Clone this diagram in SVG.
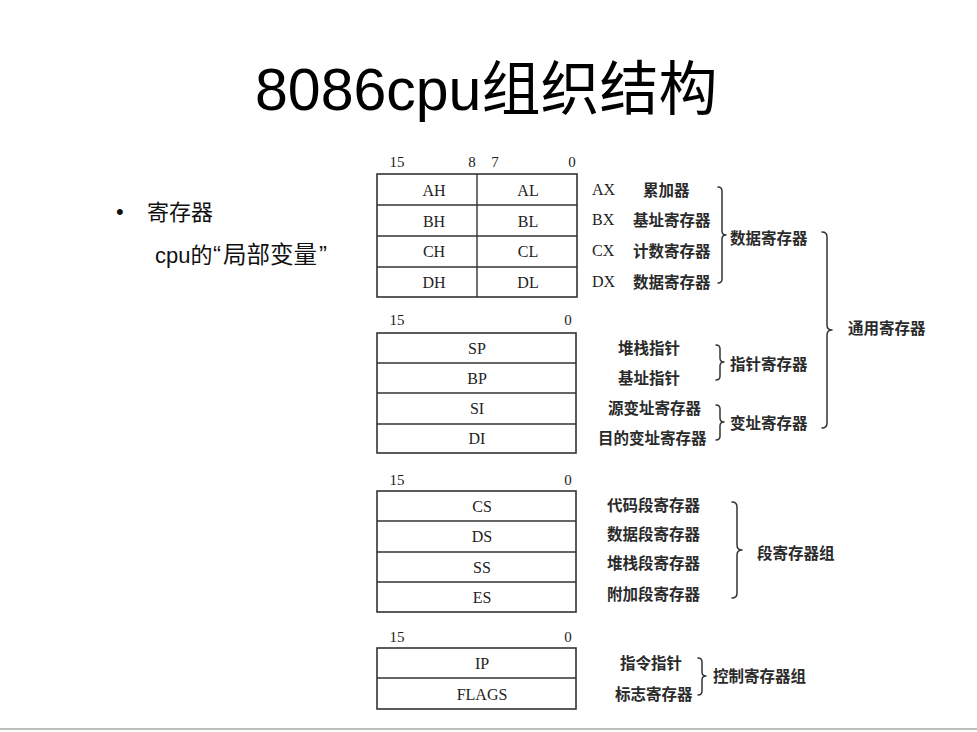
<svg xmlns="http://www.w3.org/2000/svg" width="977" height="732" viewBox="0 0 977 732">
<style>
.bg{fill:#ffffff}
.box{fill:#ffffff;stroke:#333333;stroke-width:1.6}
.div{stroke:#333333;stroke-width:1.4;fill:none}
.reg{font-family:"Liberation Serif","Noto Sans CJK SC",serif;font-size:16px;fill:#222222;text-anchor:middle;dominant-baseline:central}
.num{font-family:"Liberation Serif",serif;font-size:15px;fill:#222222;text-anchor:middle;dominant-baseline:central}
.lab{font-family:"Liberation Serif","Noto Sans CJK SC",serif;font-size:16px;fill:#222222;dominant-baseline:central}
.cn{font-family:"Noto Sans CJK SC",sans-serif;font-size:15.5px;font-weight:bold;fill:#2a2a2a;dominant-baseline:central}
.brace{fill:none;stroke:#333333;stroke-width:1.5;stroke-linejoin:round;stroke-linecap:round}
.title{font-family:"Liberation Sans","Noto Sans CJK SC",sans-serif;font-size:59px;fill:#000000}
.body{font-family:"Liberation Sans","Noto Sans CJK SC",sans-serif;font-size:22px;fill:#111111}
</style>
<rect class="bg" x="0" y="0" width="977" height="732"/>
<line x1="0" y1="729" x2="977" y2="729" stroke="#bdbdbd" stroke-width="2"/>

<g id="title"><text class="title" x="255" y="110">8086cpu组织结构</text></g>

<g id="bullet">
<text class="body" x="116" y="219">•</text>
<text class="body" x="147" y="220" font-size="23" font-family="Noto Sans CJK SC, sans-serif">寄存器</text>
<text class="body" y="263"><tspan x="155">cpu的</tspan><tspan x="213" font-size="24">“</tspan><tspan x="223" font-size="23.5">局部变量</tspan><tspan x="319" font-size="24">”</tspan></text>
</g>

<!-- Data registers -->
<g id="data-registers">
<text class="num" x="397" y="162">15</text>
<text class="num" x="472" y="162">8</text>
<text class="num" x="495" y="162">7</text>
<text class="num" x="572" y="162">0</text>
<rect class="box" x="377" y="174" width="200" height="123"/>
<line class="div" x1="377" y1="205" x2="577" y2="205"/>
<line class="div" x1="377" y1="236" x2="577" y2="236"/>
<line class="div" x1="377" y1="267" x2="577" y2="267"/>
<line class="div" x1="477" y1="174" x2="477" y2="297"/>
<text class="reg" x="434" y="190">AH</text><text class="reg" x="528" y="190">AL</text>
<text class="reg" x="434" y="221">BH</text><text class="reg" x="528" y="221">BL</text>
<text class="reg" x="434" y="251">CH</text><text class="reg" x="528" y="251">CL</text>
<text class="reg" x="434" y="282">DH</text><text class="reg" x="528" y="282">DL</text>
</g>
<g id="data-labels">
<text class="lab" x="592" y="189">AX</text><text class="cn" x="643" y="189">累加器</text>
<text class="lab" x="592" y="219">BX</text><text class="cn" x="633" y="219">基址寄存器</text>
<text class="lab" x="592" y="250">CX</text><text class="cn" x="633" y="250">计数寄存器</text>
<text class="lab" x="592" y="281">DX</text><text class="cn" x="633" y="281">数据寄存器</text>
</g>

<!-- Pointer / index registers -->
<g id="pointer-index-registers">
<text class="num" x="397" y="320">15</text>
<text class="num" x="568" y="320">0</text>
<rect class="box" x="377" y="333" width="199" height="120"/>
<line class="div" x1="377" y1="363" x2="576" y2="363"/>
<line class="div" x1="377" y1="393" x2="576" y2="393"/>
<line class="div" x1="377" y1="424" x2="576" y2="424"/>
<text class="reg" x="477" y="348">SP</text>
<text class="reg" x="477" y="378">BP</text>
<text class="reg" x="477" y="408">SI</text>
<text class="reg" x="477" y="438">DI</text>
</g>
<g id="pointer-index-labels">
<text class="cn" x="618" y="347">堆栈指针</text>
<text class="cn" x="618" y="377">基址指针</text>
<text class="cn" x="608" y="407">源变址寄存器</text>
<text class="cn" x="598" y="437">目的变址寄存器</text>
</g>

<!-- Segment registers -->
<g id="segment-registers">
<text class="num" x="397" y="480">15</text>
<text class="num" x="568" y="480">0</text>
<rect class="box" x="377" y="491" width="199" height="121"/>
<line class="div" x1="377" y1="521" x2="576" y2="521"/>
<line class="div" x1="377" y1="552" x2="576" y2="552"/>
<line class="div" x1="377" y1="582" x2="576" y2="582"/>
<text class="reg" x="482" y="506">CS</text>
<text class="reg" x="482" y="536">DS</text>
<text class="reg" x="482" y="567">SS</text>
<text class="reg" x="482" y="597">ES</text>
</g>
<g id="segment-labels">
<text class="cn" x="607" y="504">代码段寄存器</text>
<text class="cn" x="607" y="533">数据段寄存器</text>
<text class="cn" x="607" y="562">堆栈段寄存器</text>
<text class="cn" x="607" y="593">附加段寄存器</text>
</g>

<!-- Control registers -->
<g id="control-registers">
<text class="num" x="397" y="637">15</text>
<text class="num" x="568" y="637">0</text>
<rect class="box" x="377" y="648" width="199" height="61"/>
<line class="div" x1="377" y1="678" x2="576" y2="678"/>
<text class="reg" x="482" y="663">IP</text>
<text class="reg" x="482" y="694">FLAGS</text>
</g>
<g id="control-labels">
<text class="cn" x="620" y="662">指令指针</text>
<text class="cn" x="615" y="693">标志寄存器</text>
</g>

<!-- Group labels -->
<g id="group-data"><text class="cn" x="730" y="237">数据寄存器</text></g>
<g id="group-pointer"><text class="cn" x="730" y="363">指针寄存器</text></g>
<g id="group-index"><text class="cn" x="730" y="422">变址寄存器</text></g>
<g id="group-general"><text class="cn" x="848" y="327">通用寄存器</text></g>
<g id="group-segment"><text class="cn" x="757" y="552">段寄存器组</text></g>
<g id="group-control"><text class="cn" x="713" y="675">控制寄存器组</text></g>

<!-- Braces -->
<g id="connectors">
<path class="brace" d="M718,187 Q722,187 722,191 L722,231 Q722,235 726,235 Q722,235 722,239 L722,279 Q722,283 718,283"/>
<path class="brace" d="M716,345 Q720,345 720,349 L720,358 Q720,362 724,362 Q720,362 720,366 L720,376 Q720,380 716,380"/>
<path class="brace" d="M716,405 Q720,405 720,409 L720,418 Q720,422 724,422 Q720,422 720,426 L720,436 Q720,440 716,440"/>
<path class="brace" d="M822,232 Q827,232 827,237 L827,325 Q827,330 832,330 Q827,330 827,335 L827,423 Q827,428 822,428"/>
<path class="brace" d="M732,502 Q737,502 737,507 L737,545 Q737,550 742,550 Q737,550 737,555 L737,593 Q737,598 732,598"/>
<path class="brace" d="M698,658 Q702,658 702,662 L702,672 Q702,676 706,676 Q702,676 702,680 L702,691 Q702,695 698,695"/>
</g>
</svg>
